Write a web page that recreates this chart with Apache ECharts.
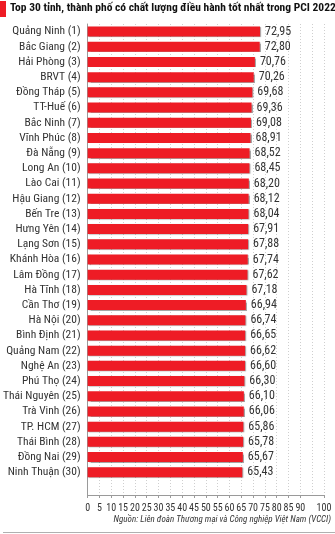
<!DOCTYPE html>
<html>
<head>
<meta charset="utf-8">
<script src="https://cdn.jsdelivr.net/npm/echarts@6/dist/echarts.min.js"></script>
<style>
  html, body { margin: 0; padding: 0; background: #fff; }
  #chart { width: 335px; height: 534px; }
</style>
</head>
<body>
<div id="chart"></div>
<script>
// Provinces ranked by PCI 2022 governance score
const provinces = [
  'Quảng Ninh (1)', 'Bắc Giang (2)', 'Hải Phòng (3)', 'BRVT (4)', 'Đồng Tháp (5)',
  'TT-Huế (6)', 'Bắc Ninh (7)', 'Vĩnh Phúc (8)', 'Đà Nẵng (9)', 'Long An (10)',
  'Lào Cai (11)', 'Hậu Giang (12)', 'Bến Tre (13)', 'Hưng Yên (14)', 'Lạng Sơn (15)',
  'Khánh Hòa (16)', 'Lâm Đồng (17)', 'Hà Tĩnh (18)', 'Cần Thơ (19)', 'Hà Nội (20)',
  'Bình Định (21)', 'Quảng Nam (22)', 'Nghệ An (23)', 'Phú Thọ (24)', 'Thái Nguyên (25)',
  'Trà Vinh (26)', 'TP. HCM (27)', 'Thái Bình (28)', 'Đồng Nai (29)', 'Ninh Thuận (30)'
];
const scores = [
  72.95, 72.80, 70.76, 70.26, 69.68,
  69.36, 69.08, 68.91, 68.52, 68.45,
  68.20, 68.12, 68.04, 67.91, 67.88,
  67.74, 67.62, 67.18, 66.94, 66.74,
  66.65, 66.62, 66.60, 66.30, 66.10,
  66.06, 65.86, 65.78, 65.67, 65.43
];
const axisMin = 0;
const axisMax = 100;
const axisStep = 5;

const titleText = 'Top 30 tỉnh, thành phố có chất lượng điều hành tốt nhất trong PCI 2022';
const sourceText = 'Nguồn: Liên đoàn Thương mại và Công nghiệp Việt Nam (VCCI)';

const FONT = '"Liberation Sans Narrow", "Roboto Condensed", "Liberation Sans", sans-serif';

// one blank slot below the last bar leaves room above the x axis
const cats = provinces.concat(['']);
const vals = scores.concat([null]);

const chart = echarts.init(document.getElementById('chart'), null, { renderer: 'canvas' });
chart.setOption({
  backgroundColor: '#fff',
  animation: false,
  grid: { left: 65, right: 11, top: 24, bottom: 39, containLabel: false },
  xAxis: {
    type: 'value',
    min: axisMin, max: axisMax, interval: axisStep,
    axisLine: { show: true, lineStyle: { color: '#9a9a9a', width: 1 } },
    axisTick: { show: true, length: 3, lineStyle: { color: '#9a9a9a' } },
    axisLabel: {
      color: '#333', fontFamily: FONT, fontSize: 10, margin: 8, interval: 0,
      showMinLabel: true, showMaxLabel: true, hideOverlap: false
    },
    splitLine: { show: true, lineStyle: { color: '#cfcfcf', type: [1, 2], width: 1 } }
  },
  yAxis: {
    type: 'category',
    data: cats,
    inverse: true,
    axisLine: { show: true, lineStyle: { color: '#9a9a9a', width: 1 } },
    axisTick: { show: false },
    axisLabel: { color: '#333', fontFamily: FONT, fontSize: 11.5, margin: 7, interval: 0 },
    splitLine: { show: false }
  },
  series: [{
    type: 'bar',
    data: vals,
    barWidth: 10,
    itemStyle: {
      color: '#ee1c25',
      shadowColor: 'rgba(0,0,0,0.35)',
      shadowBlur: 1,
      shadowOffsetX: 1,
      shadowOffsetY: 0.5
    },
    label: {
      show: true,
      position: 'right',
      distance: 5,
      color: '#333',
      fontFamily: FONT,
      fontSize: 12,
      formatter: p => (p.value == null ? '' : p.value.toFixed(2).replace('.', ','))
    }
  }],
  graphic: [
    { type: 'rect', left: 0, top: 1, shape: { width: 6, height: 16 }, style: { fill: '#ee1c25' } },
    {
      type: 'text', left: 10, top: 2,
      style: { text: titleText, fill: '#111', font: 'bold 11.5px ' + FONT }
    },
    {
      type: 'text', right: 4, top: 515,
      style: { text: sourceText, fill: '#333', font: 'italic 9px ' + FONT }
    },
    { type: 'rect', left: 3, top: 532, shape: { width: 332, height: 1 }, style: { fill: '#b0b0b0' } }
  ]
});
</script>
</body>
</html>
